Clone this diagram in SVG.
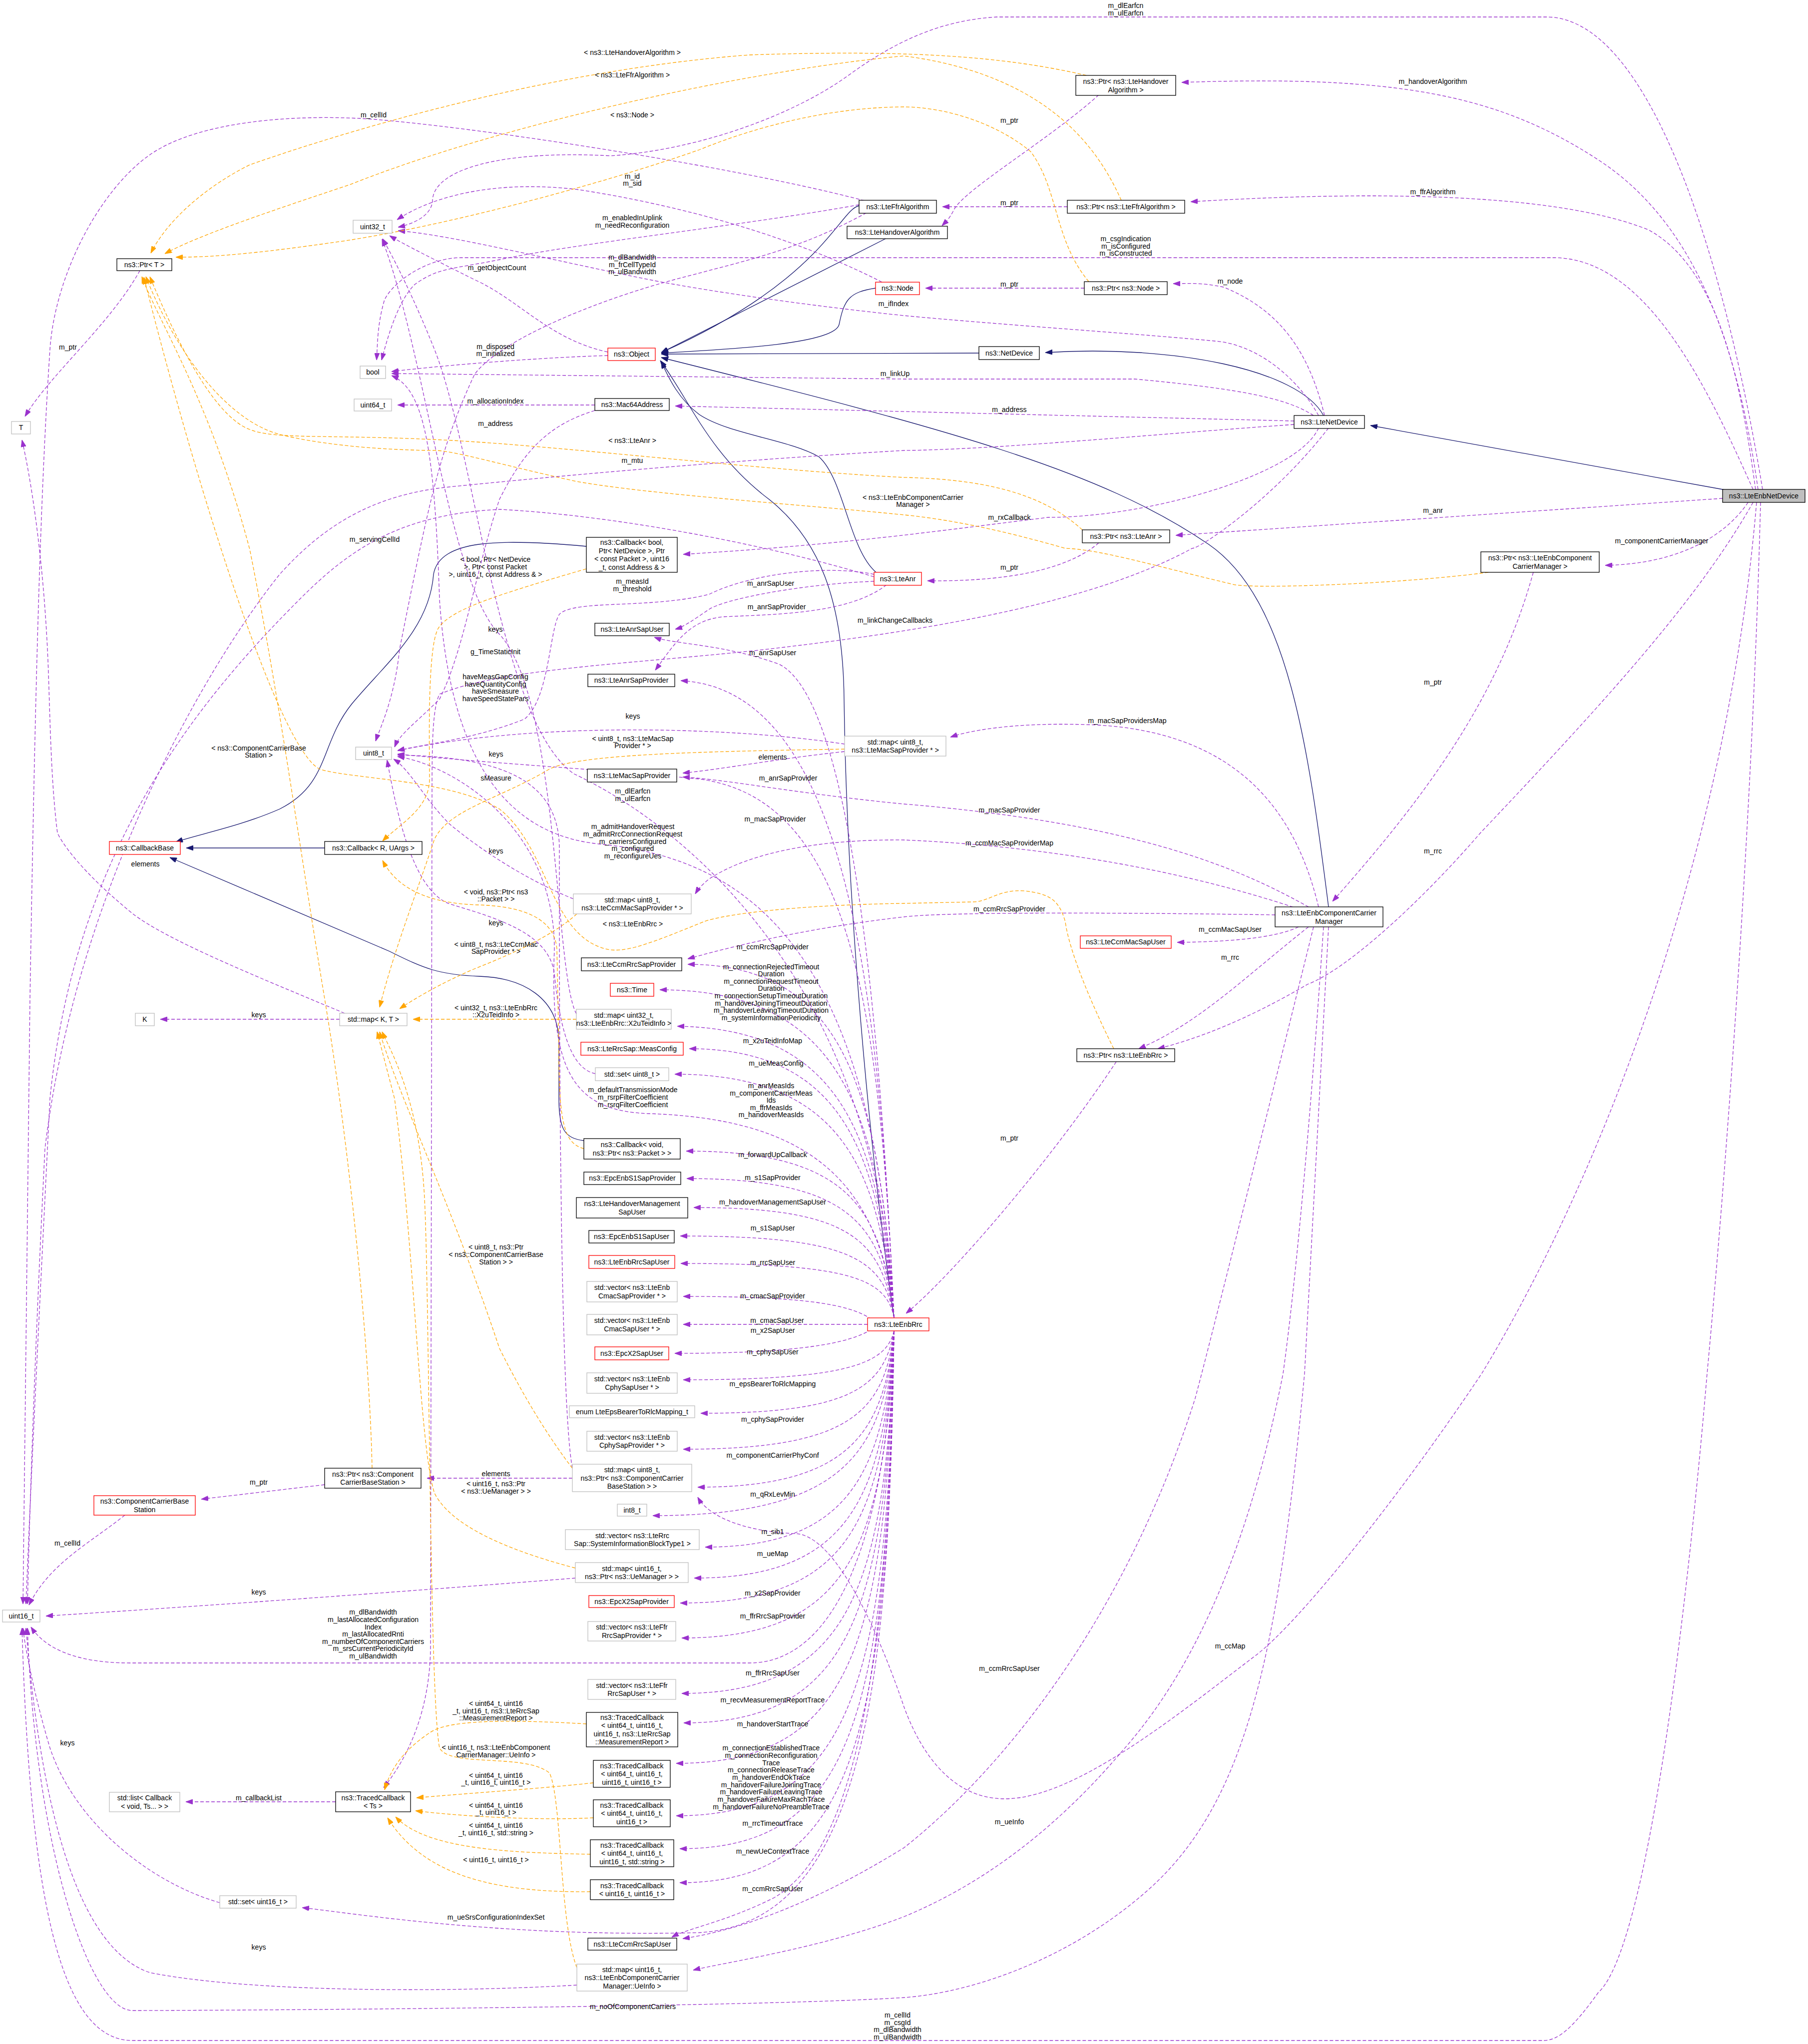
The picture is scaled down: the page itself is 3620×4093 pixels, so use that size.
<svg xmlns="http://www.w3.org/2000/svg" width="3620" height="4093" viewBox="0 0 3620 4093">
<defs>
<marker id="mp" markerUnits="userSpaceOnUse" markerWidth="14" markerHeight="10" refX="14" refY="5" orient="auto"><path d="M0,0 L14,5 L0,10 z" fill="#9A32CD" stroke="#9A32CD"/></marker>
<marker id="mo" markerUnits="userSpaceOnUse" markerWidth="14" markerHeight="10" refX="14" refY="5" orient="auto"><path d="M0,0 L14,5 L0,10 z" fill="#FFA500" stroke="#FFA500"/></marker>
<marker id="mn" markerUnits="userSpaceOnUse" markerWidth="14" markerHeight="10" refX="14" refY="5" orient="auto"><path d="M0,0 L14,5 L0,10 z" fill="#191970" stroke="#191970"/></marker>
</defs>
<style>
text{font-family:"Liberation Sans",Arial,sans-serif;font-size:14px;fill:#000;text-anchor:middle}
.n rect{fill:#fff;stroke:#000;stroke-width:1.3}
.r rect{fill:#fff;stroke:#FF0000;stroke-width:1.3}
.g rect{fill:#fff;stroke:#BFBFBF;stroke-width:1.3}
.cur rect{fill:#BFBFBF;stroke:#000;stroke-width:1.3}
.p{fill:none;stroke:#9A32CD;stroke-width:1.3;stroke-dasharray:7,4;marker-end:url(#mp)}
.o{fill:none;stroke:#FFA500;stroke-width:1.3;stroke-dasharray:7,4;marker-end:url(#mo)}
.i{fill:none;stroke:#191970;stroke-width:1.3;marker-end:url(#mn)}
</style>
<rect width="3620" height="4093" fill="#fff"/>
<g id="connectors">
<path class="i" d="M3460,982 L2744,852"/>
<path class="i" d="M2650,832 C2600,740 2350,690 2093,706"/>
<path class="i" d="M1960,707 L1324,709"/>
<path class="i" d="M1720,412 C1680,420 1650,560 1324,706"/>
<path class="i" d="M1775,477 L1324,706"/>
<path class="i" d="M1753,577 C1700,585 1690,600 1680,650 C1670,690 1450,700 1324,707"/>
<path class="i" d="M2660,1816 C2620,1500 2580,1200 2420,1090 C2200,940 1900,860 1324,716"/>
<path class="i" d="M1790,2639 C1740,2300 1695,1800 1690,1400 C1688,1200 1640,1080 1540,1000 C1420,910 1380,800 1322,722"/>
<path class="i" d="M1754,1146 C1700,1100 1690,960 1640,915 C1580,880 1460,870 1400,830 C1360,800 1340,760 1324,724"/>
<path class="i" d="M650,1698 L373,1698"/>
<path class="i" d="M1174,1094 C1000,1078 880,1080 868,1150 C860,1260 770,1330 704,1410 C640,1490 660,1570 560,1620 C480,1655 400,1670 352,1686"/>
<path class="i" d="M1169,2284 C1130,2280 1119,2260 1119,2200 L1119,2080 C1115,2000 1050,1958 960,1955 C880,1952 850,1940 780,1905 L340,1717"/>

<path class="p" d="M3529,980 C3450,500 3300,40 3100,34 L1995,34 C1900,40 1810,70 1700,150 C1590,230 1400,300 1223,312 C1000,300 870,340 866,400 C866,430 830,448 797,455"/>
<path class="p" d="M3520,980 C3480,700 3400,450 3200,320 C3000,190 2800,150 2366,165"/>
<path class="p" d="M3515,980 C3490,800 3450,540 3300,460 C3100,380 2700,385 2384,404"/>
<path class="p" d="M3510,980 C3420,780 3300,520 3114,516 L923,516 C860,516 790,560 770,600 C755,650 756,690 754,721"/>
<path class="p" d="M3449,998 L2354,1072"/>
<path class="p" d="M3500,1006 C3450,1080 3350,1130 3214,1132"/>
<path class="p" d="M3510,1006 C3400,1200 3218,1400 2964,1668 C2850,1800 2700,1940 2618,1971 C2500,2040 2400,2080 2318,2100"/>
<path class="p" d="M3517,1006 C3450,1800 3150,2450 2967,2750 C2800,3000 2600,3250 2514,3315 C2350,3440 2150,3602 2012,3602 C1900,3602 1840,3500 1810,3418 C1770,3300 1680,3075 1593,3071 C1500,3068 1420,3040 1397,2998"/>
<path class="p" d="M3525,1006 C3510,1600 3460,2300 3418,2750 C3380,3200 3300,3900 3200,3990 C3150,4060 3120,4086 3091,4086 L265,4086 C120,4086 60,3800 44,3260"/>
<path class="p" d="M2652,832 C2620,700 2560,620 2450,575 C2400,565 2380,568 2349,568"/>
<path class="p" d="M2640,832 C2600,760 2520,690 2433,683 C2300,670 2000,650 1810,632 C1600,610 1400,580 1300,560 C1100,520 900,470 797,462"/>
<path class="p" d="M2630,832 C2580,800 2500,780 2272,759 L1810,759 L784,748"/>
<path class="p" d="M2591,843 L1352,813"/>
<path class="p" d="M2591,850 C2300,870 2000,900 1810,902 C1500,920 1200,945 900,975 C750,990 650,1050 560,1150 C400,1350 150,1800 90,2300 C70,2700 60,3000 55,3212"/>
<path class="p" d="M2640,857 C2600,950 2300,1036 2099,1036 C1900,1060 1700,1090 1368,1110"/>
<path class="p" d="M2660,857 C2550,1000 2400,1100 2387,1098 C2200,1200 1900,1260 1500,1304 C1250,1330 1000,1340 880,1390 C865,1420 865,1500 865,1600 L862,3300 C860,3450 800,3540 768,3580"/>
<path class="p" d="M1731,402 C1500,340 1000,260 750,239 C600,228 400,240 300,310 C200,380 110,550 100,700 C80,1000 70,1400 60,2000 L46,3212"/>
<path class="p" d="M1720,410 C1500,450 1154,487 1000,520 C900,540 877,536 830,570 C800,600 780,660 764,721"/>
<path class="p" d="M1735,426 C1600,500 1500,520 1350,560 C1200,600 1000,680 950,750 C880,900 860,1000 800,1300 C790,1400 760,1460 752,1484"/>
<path class="p" d="M1766,565 C1600,480 1385,415 1160,380 C1000,360 870,390 795,440"/>
<path class="p" d="M1217,705 C1100,680 1039,600 950,560 C870,520 810,490 780,472"/>
<path class="p" d="M1217,712 C1100,715 900,730 784,744"/>
<path class="p" d="M1191,811 L796,811"/>
<path class="p" d="M1191,822 C1100,850 1050,900 1000,1000 C950,1150 930,1300 880,1400 C830,1450 800,1470 790,1496"/>
<path class="p" d="M1750,1164 C1600,1170 1450,1200 1420,1220 C1390,1240 1370,1255 1352,1260"/>
<path class="p" d="M1775,1171 C1700,1230 1550,1230 1450,1235 C1380,1240 1350,1290 1312,1342"/>
<path class="p" d="M1750,1150 C1650,1130 1500,1150 1420,1190 C1300,1220 1150,1200 1120,1230 C1100,1260 1100,1400 1050,1440 C950,1480 850,1490 796,1503"/>
<path class="p" d="M1750,1155 C1500,1080 1200,1030 1000,1020 C800,1030 700,1100 600,1200 C400,1400 150,1700 100,2200 C80,2600 60,3000 52,3212"/>
<path class="p" d="M2200,190 C2100,280 1930,380 1910,420 C1900,440 1892,446 1886,452"/>
<path class="p" d="M2137,414 L1887,414"/>
<path class="p" d="M2171,577 L1853,577"/>
<path class="p" d="M2200,1087 C2150,1130 2050,1165 1857,1163"/>
<path class="p" d="M3070,1146 C3000,1400 2850,1600 2668,1805"/>
<path class="p" d="M2235,2126 C2100,2330 1900,2560 1814,2630"/>
<path class="p" d="M280,542 C220,650 100,750 50,834"/>
<path class="p" d="M650,2973 L403,3002"/>
<path class="p" d="M250,3034 C180,3090 100,3130 58,3214"/>
<path class="p" d="M2640,1816 C2600,1650 2500,1470 2200,1452 C2050,1445 1950,1460 1903,1476"/>
<path class="p" d="M2620,1816 C2500,1750 2300,1650 1810,1610 C1600,1590 1450,1560 1367,1556"/>
<path class="p" d="M2600,1820 C2300,1720 2000,1690 1810,1682 C1600,1680 1480,1720 1420,1760 C1405,1772 1398,1780 1392,1790"/>
<path class="p" d="M2553,1832 C2300,1828 1900,1825 1810,1836 C1600,1860 1450,1900 1377,1920"/>
<path class="p" d="M2600,1856 C2550,1880 2450,1886 2357,1887"/>
<path class="p" d="M2620,1856 C2500,1950 2400,2050 2280,2100"/>
<path class="p" d="M2630,1856 C2520,2300 2420,2700 2393,2800 C2250,3250 2000,3550 1810,3700 C1600,3830 1450,3870 1367,3882"/>
<path class="p" d="M2650,1856 C2620,2300 2590,2600 2569,2750 C2520,3000 2430,3300 2249,3504 C2100,3680 1950,3780 1810,3838 C1650,3900 1450,3930 1388,3945"/>
<path class="p" d="M2660,1856 L2612,2750 C2560,3300 2500,3600 2306,3778 C2150,3920 1950,3990 1810,4000 C1500,4020 400,4026 265,4026 C180,4026 70,3700 55,3260"/>

<path class="p" d="M1790,2639 C1760,2000 1700,1400 1560,1330 C1450,1290 1350,1290 1310,1276"/>
<path class="p" d="M1790,2639 C1760,2000 1700,1380 1363,1363"/>
<path class="p" d="M1790,2639 C1760,2000 1700,1600 1400,1560 C1200,1540 1000,1530 796,1510"/>
<path class="p" d="M1790,2639 C1750,1900 1300,1620 1150,1550 C1000,1450 950,900 870,700 C830,600 790,520 766,478"/>
<path class="p" d="M1790,2639 C1750,1900 1500,1720 1200,1690 C1000,1670 900,1500 880,1200 C870,900 850,780 784,752"/>
<path class="p" d="M1790,2639 C1760,2200 1700,1931 1377,1931"/>
<path class="p" d="M1790,2639 C1760,2250 1700,1982 1321,1982"/>
<path class="p" d="M1790,2639 C1760,2300 1700,2060 1356,2055"/>
<path class="p" d="M1790,2639 C1760,2330 1700,2100 1380,2100"/>
<path class="p" d="M1790,2639 C1760,2360 1700,2151 1351,2151"/>
<path class="p" d="M1790,2639 C1760,2350 1600,2240 1300,2230 C1150,2225 1100,2150 1110,1900 C1110,1650 900,1530 796,1515"/>
<path class="p" d="M1790,2639 C1765,2420 1700,2305 1374,2305"/>
<path class="p" d="M1790,2639 C1765,2450 1700,2360 1375,2360"/>
<path class="p" d="M1790,2639 C1765,2480 1700,2418 1389,2418"/>
<path class="p" d="M1790,2639 C1770,2520 1700,2475 1362,2475"/>
<path class="p" d="M1790,2639 C1775,2560 1700,2530 1363,2530"/>
<path class="p" d="M1745,2642 C1700,2610 1600,2596 1368,2596"/>
<path class="p" d="M1737,2652 L1368,2652"/>
<path class="p" d="M1745,2662 C1700,2690 1600,2710 1351,2710"/>
<path class="p" d="M1790,2665 C1775,2730 1700,2763 1368,2763"/>
<path class="p" d="M1790,2665 C1770,2780 1700,2830 1403,2830"/>
<path class="p" d="M1790,2665 C1770,2830 1700,2902 1368,2902"/>
<path class="p" d="M1790,2665 C1770,2870 1700,2978 1397,2978"/>
<path class="p" d="M1790,2665 C1770,2900 1700,3035 1307,3035"/>
<path class="p" d="M1790,2665 C1770,2950 1700,3098 1412,3098"/>
<path class="p" d="M1790,2665 C1770,3000 1700,3160 1390,3160"/>
<path class="p" d="M1790,2665 C1770,3050 1700,3210 1362,3210"/>
<path class="p" d="M1790,2665 C1770,3100 1700,3280 1365,3280"/>
<path class="p" d="M1790,2665 C1780,3000 1700,3330 1500,3330 L260,3330 C150,3330 90,3300 62,3258"/>
<path class="p" d="M1790,2665 C1775,3180 1700,3391 1365,3391"/>
<path class="p" d="M1790,2665 C1775,3230 1700,3450 1369,3450"/>
<path class="p" d="M1790,2665 C1775,3300 1700,3531 1354,3531"/>
<path class="p" d="M1790,2665 C1778,3380 1700,3636 1354,3636"/>
<path class="p" d="M1790,2665 C1778,3450 1700,3702 1361,3702"/>
<path class="p" d="M1790,2665 C1780,3500 1700,3770 1361,3770"/>
<path class="p" d="M1790,2665 C1780,3300 1750,3850 1400,3870 C1000,3880 700,3830 605,3820"/>
<path class="p" d="M1790,2665 C1780,3300 1720,3700 1550,3800 C1450,3850 1380,3860 1345,3879"/>

<path class="p" d="M1691,1490 C1500,1460 1100,1440 796,1503"/>
<path class="p" d="M1154,2030 C1110,1950 1120,1400 1000,1270 C900,1170 850,700 765,479"/>
<path class="p" d="M1146,2940 C1120,2800 1120,2000 1120,1700 C1120,1560 1000,1515 796,1512"/>
<path class="p" d="M1148,1800 C1050,1760 960,1700 900,1650 C850,1600 820,1540 788,1520"/>
<path class="p" d="M1192,2150 C1140,2140 1120,2050 1110,1950 C1100,1870 1000,1840 900,1810 C820,1780 790,1600 775,1522"/>
<path class="p" d="M680,2041 L321,2041"/>
<path class="p" d="M690,2029 C500,1950 330,1880 265,1829 C180,1760 130,1700 115,1668 C100,1550 100,1400 95,1300 C85,1100 60,950 44,881"/>
<path class="p" d="M672,3608 L372,3608"/>
<path class="p" d="M440,3810 C300,3770 150,3650 100,3500 C70,3400 50,3300 46,3260"/>
<path class="p" d="M1155,3975 C900,3990 500,3990 300,3950 C150,3900 80,3600 52,3260"/>
<path class="p" d="M1152,3160 C900,3180 500,3210 92,3236"/>
<path class="p" d="M1691,1505 C1550,1520 1450,1540 1367,1548"/>
<path class="p" d="M1146,2960 L855,2960"/>

<path class="o" d="M2175,151 C2000,110 1800,100 1500,110 C1100,140 700,260 500,330 C400,380 330,450 302,507"/>
<path class="o" d="M2245,401 C2200,300 2100,150 1810,112 C1500,140 1000,250 700,370 C550,420 400,470 330,508"/>
<path class="o" d="M2180,564 C2110,480 2120,380 2064,304 C2000,250 1900,215 1810,214 C1650,215 1500,259 1400,300 C1200,370 900,450 692,482 C500,510 420,515 352,515"/>
<path class="o" d="M2167,1061 C2100,1000 2000,960 1810,956 C1500,940 1100,890 866,880 C650,870 550,880 500,860 C420,830 340,650 300,554"/>
<path class="o" d="M2980,1146 C2800,1170 2500,1180 2468,1170 C2300,1130 2200,1100 2133,1098 C2000,1060 1900,1040 1810,1031 C1600,1010 1300,990 1154,964 C1000,930 900,900 866,902 C700,900 600,880 560,870 C450,840 350,700 292,554"/>
<path class="o" d="M2230,2100 C2180,2000 2140,1900 2133,1846 C2120,1800 2100,1790 2052,1784 C2000,1780 1980,1806 1948,1806 L1810,1809 C1600,1812 1450,1830 1408,1846 C1300,1890 1250,1910 1212,1900 C1100,1870 1100,1700 1000,1620 C900,1560 700,1560 640,1540 C560,1500 400,1000 288,555"/>
<path class="o" d="M745,2940 C740,2700 700,2300 650,2000 C600,1700 560,1400 500,1100 C420,800 320,650 284,554"/>
<path class="o" d="M1174,1139 C1000,1190 900,1220 877,1259 C855,1300 860,1500 860,1560 C860,1620 800,1650 766,1684"/>
<path class="o" d="M1169,2300 C1130,2290 1119,2250 1119,2100 L1115,1900 C1110,1840 1050,1815 958,1812 C880,1810 800,1790 766,1723"/>
<path class="o" d="M1691,1500 C1400,1505 1160,1510 1100,1540 C1000,1600 900,1620 870,1680 C830,1800 790,1900 760,2017"/>
<path class="o" d="M1155,1830 C1100,1880 1000,1920 950,1940 C880,1970 830,2000 800,2020"/>
<path class="o" d="M1154,2041 L827,2041"/>
<path class="o" d="M1146,2940 C1100,2880 1050,2800 1000,2700 C900,2400 800,2200 760,2066"/>
<path class="o" d="M1152,3140 C1000,3100 900,3050 870,2990 C840,2900 830,2500 790,2200 L755,2066"/>
<path class="o" d="M1155,3940 C1120,3850 1125,3600 1100,3550 C1050,3510 900,3540 880,3500 C860,3400 860,2600 850,2400 C840,2200 780,2100 765,2066"/>
<path class="o" d="M1174,3452 C1050,3445 900,3440 860,3470 C800,3510 780,3550 770,3584"/>
<path class="o" d="M1188,3570 C1100,3580 950,3590 834,3600"/>
<path class="o" d="M1188,3640 C1100,3645 950,3640 832,3626"/>
<path class="o" d="M1182,3713 C1000,3710 850,3700 792,3638"/>
<path class="o" d="M1182,3788 C1000,3790 850,3760 776,3640"/>

<text x="2254" y="16">m_dlEarfcn</text><text x="2254" y="31">m_ulEarfcn</text>
<text x="2869" y="168">m_handoverAlgorithm</text>
<text x="2869" y="389">m_ffrAlgorithm</text>
<text x="2254" y="483">m_csgIndication</text><text x="2254" y="498">m_isConfigured</text><text x="2254" y="512">m_isConstructed</text>
<text x="2463" y="568">m_node</text>
<text x="1789" y="613">m_ifIndex</text>
<text x="1792" y="753">m_linkUp</text>
<text x="2021" y="825">m_address</text>
<text x="1266" y="927">m_mtu</text>
<text x="2021" y="1041">m_rxCallback</text>
<text x="1792" y="1247">m_linkChangeCallbacks</text>
<text x="2869" y="1027">m_anr</text>
<text x="3327" y="1088">m_componentCarrierManager</text>
<text x="2869" y="1709">m_rrc</text>
<text x="2463" y="3301">m_ccMap</text>
<text x="1797" y="4040">m_cellId</text><text x="1797" y="4055">m_csgId</text><text x="1797" y="4069">m_dlBandwidth</text><text x="1797" y="4084">m_ulBandwidth</text>
<text x="2021" y="246">m_ptr</text>
<text x="2021" y="411">m_ptr</text>
<text x="2021" y="574">m_ptr</text>
<text x="2021" y="1141">m_ptr</text>
<text x="2869" y="1371">m_ptr</text>
<text x="2021" y="2284">m_ptr</text>
<text x="136" y="700">m_ptr</text>
<text x="518" y="2973">m_ptr</text>
<text x="135" y="3095">m_cellId</text>
<text x="2257" y="1448">m_macSapProvidersMap</text>
<text x="2021" y="1627">m_macSapProvider</text>
<text x="2021" y="1693">m_ccmMacSapProviderMap</text>
<text x="2021" y="1825">m_ccmRrcSapProvider</text>
<text x="2463" y="1866">m_ccmMacSapUser</text>
<text x="2463" y="1922">m_rrc</text>
<text x="2021" y="3346">m_ccmRrcSapUser</text>
<text x="2021" y="3653">m_ueInfo</text>
<text x="1267" y="4023">m_noOfComponentCarriers</text>
<text x="1266" y="110">&lt; ns3::LteHandoverAlgorithm &gt;</text>
<text x="1266" y="155">&lt; ns3::LteFfrAlgorithm &gt;</text>
<text x="748" y="235">m_cellId</text>
<text x="1266" y="235">&lt; ns3::Node &gt;</text>
<text x="1266" y="358">m_id</text><text x="1266" y="372">m_sid</text>
<text x="1266" y="441">m_enabledInUplink</text><text x="1266" y="456">m_needReconfiguration</text>
<text x="1266" y="520">m_dlBandwidth</text><text x="1266" y="535">m_frCellTypeId</text><text x="1266" y="549">m_ulBandwidth</text>
<text x="995" y="541">m_getObjectCount</text>
<text x="992" y="699">m_disposed</text><text x="992" y="713">m_initialized</text>
<text x="992" y="808">m_allocationIndex</text>
<text x="992" y="853">m_address</text>
<text x="1266" y="887">&lt; ns3::LteAnr &gt;</text>
<text x="1828" y="1001">&lt; ns3::LteEnbComponentCarrier</text><text x="1828" y="1015">Manager &gt;</text>
<text x="750" y="1085">m_servingCellId</text>
<text x="992" y="1125">&lt; bool, Ptr&lt; NetDevice</text><text x="992" y="1140">&gt;, Ptr&lt; const Packet</text><text x="992" y="1155">&gt;, uint16_t, const Address &amp; &gt;</text>
<text x="1266" y="1169">m_measId</text><text x="1266" y="1184">m_threshold</text>
<text x="1543" y="1173">m_anrSapUser</text>
<text x="1555" y="1220">m_anrSapProvider</text>
<text x="992" y="1265">keys</text>
<text x="1547" y="1312">m_anrSapUser</text>
<text x="992" y="1310">g_TimeStaticInit</text>
<text x="992" y="1360">haveMeasGapConfig</text><text x="992" y="1375">haveQuantityConfig</text><text x="992" y="1389">haveSmeasure</text><text x="992" y="1404">haveSpeedStatePars</text>
<text x="1267" y="1439">keys</text>
<text x="1267" y="1484">&lt; uint8_t, ns3::LteMacSap</text><text x="1267" y="1498">Provider * &gt;</text>
<text x="1547" y="1521">elements</text>
<text x="993" y="1515">keys</text>
<text x="518" y="1503">&lt; ns3::ComponentCarrierBase</text><text x="518" y="1517">Station &gt;</text>
<text x="1578" y="1563">m_anrSapProvider</text>
<text x="993" y="1563">sMeasure</text>
<text x="1267" y="1589">m_dlEarfcn</text><text x="1267" y="1604">m_ulEarfcn</text>
<text x="1552" y="1645">m_macSapProvider</text>
<text x="1267" y="1660">m_admitHandoverRequest</text><text x="1267" y="1675">m_admitRrcConnectionRequest</text><text x="1267" y="1690">m_carriersConfigured</text><text x="1267" y="1704">m_configured</text><text x="1267" y="1719">m_reconfigureUes</text>
<text x="993" y="1709">keys</text>
<text x="291" y="1735">elements</text>
<text x="993" y="1791">&lt; void, ns3::Ptr&lt; ns3</text><text x="993" y="1805">::Packet &gt; &gt;</text>
<text x="1267" y="1855">&lt; ns3::LteEnbRrc &gt;</text>
<text x="993" y="1853">keys</text>
<text x="993" y="1896">&lt; uint8_t, ns3::LteCcmMac</text><text x="993" y="1910">SapProvider * &gt;</text>
<text x="1547" y="1901">m_ccmRrcSapProvider</text>
<text x="1544" y="1941">m_connectionRejectedTimeout</text><text x="1544" y="1955">Duration</text><text x="1544" y="1970">m_connectionRequestTimeout</text><text x="1544" y="1984">Duration</text><text x="1544" y="1999">m_connectionSetupTimeoutDuration</text><text x="1544" y="2014">m_handoverJoiningTimeoutDuration</text><text x="1544" y="2028">m_handoverLeavingTimeoutDuration</text><text x="1544" y="2043">m_systemInformationPeriodicity</text>
<text x="993" y="2023">&lt; uint32_t, ns3::LteEnbRrc</text><text x="993" y="2037">::X2uTeidInfo &gt;</text>
<text x="518" y="2037">keys</text>
<text x="1547" y="2089">m_x2uTeidInfoMap</text>
<text x="1554" y="2134">m_ueMeasConfig</text>
<text x="1544" y="2179">m_anrMeasIds</text><text x="1544" y="2194">m_componentCarrierMeas</text><text x="1544" y="2208">Ids</text><text x="1544" y="2223">m_ffrMeasIds</text><text x="1544" y="2237">m_handoverMeasIds</text>
<text x="1267" y="2187">m_defaultTransmissionMode</text><text x="1267" y="2202">m_rsrpFilterCoefficient</text><text x="1267" y="2217">m_rsrqFilterCoefficient</text>
<text x="1547" y="2317">m_forwardUpCallback</text>
<text x="1547" y="2363">m_s1SapProvider</text>
<text x="1547" y="2412">m_handoverManagementSapUser</text>
<text x="1547" y="2464">m_s1SapUser</text>
<text x="1547" y="2533">m_rrcSapUser</text>
<text x="1547" y="2600">m_cmacSapProvider</text>
<text x="1556" y="2649">m_cmacSapUser</text>
<text x="1547" y="2669">m_x2SapUser</text>
<text x="1547" y="2712">m_cphySapUser</text>
<text x="1547" y="2776">m_epsBearerToRlcMapping</text>
<text x="993" y="2502">&lt; uint8_t, ns3::Ptr</text><text x="993" y="2517">&lt; ns3::ComponentCarrierBase</text><text x="993" y="2532">Station &gt; &gt;</text>
<text x="1547" y="2847">m_cphySapProvider</text>
<text x="1547" y="2919">m_componentCarrierPhyConf</text>
<text x="993" y="2956">elements</text>
<text x="993" y="2976">&lt; uint16_t, ns3::Ptr</text><text x="993" y="2991">&lt; ns3::UeManager &gt; &gt;</text>
<text x="1547" y="2997">m_qRxLevMin</text>
<text x="1547" y="3072">m_sib1</text>
<text x="1547" y="3116">m_ueMap</text>
<text x="518" y="3193">keys</text>
<text x="1547" y="3195">m_x2SapProvider</text>
<text x="1547" y="3241">m_ffrRrcSapProvider</text>
<text x="747" y="3233">m_dlBandwidth</text><text x="747" y="3248">m_lastAllocatedConfiguration</text><text x="747" y="3263">Index</text><text x="747" y="3277">m_lastAllocatedRnti</text><text x="747" y="3292">m_numberOfComponentCarriers</text><text x="747" y="3306">m_srsCurrentPeriodicityId</text><text x="747" y="3321">m_ulBandwidth</text>
<text x="1547" y="3355">m_ffrRrcSapUser</text>
<text x="1547" y="3409">m_recvMeasurementReportTrace</text>
<text x="993" y="3416">&lt; uint64_t, uint16</text><text x="993" y="3431">_t, uint16_t, ns3::LteRrcSap</text><text x="993" y="3445">::MeasurementReport &gt;</text>
<text x="1547" y="3457">m_handoverStartTrace</text>
<text x="993" y="3504">&lt; uint16_t, ns3::LteEnbComponent</text><text x="993" y="3519">CarrierManager::UeInfo &gt;</text>
<text x="1544" y="3505">m_connectionEstablishedTrace</text><text x="1544" y="3520">m_connectionReconfiguration</text><text x="1544" y="3535">Trace</text><text x="1544" y="3549">m_connectionReleaseTrace</text><text x="1544" y="3564">m_handoverEndOkTrace</text><text x="1544" y="3579">m_handoverFailureJoiningTrace</text><text x="1544" y="3593">m_handoverFailureLeavingTrace</text><text x="1544" y="3608">m_handoverFailureMaxRachTrace</text><text x="1544" y="3623">m_handoverFailureNoPreambleTrace</text>
<text x="135" y="3495">keys</text>
<text x="993" y="3560">&lt; uint64_t, uint16</text><text x="993" y="3574">_t, uint16_t, uint16_t &gt;</text>
<text x="518" y="3605">m_callbackList</text>
<text x="993" y="3620">&lt; uint64_t, uint16</text><text x="993" y="3634">_t, uint16_t &gt;</text>
<text x="1547" y="3656">m_rrcTimeoutTrace</text>
<text x="993" y="3660">&lt; uint64_t, uint16</text><text x="993" y="3675">_t, uint16_t, std::string &gt;</text>
<text x="1547" y="3712">m_newUeContextTrace</text>
<text x="993" y="3729">&lt; uint16_t, uint16_t &gt;</text>
<text x="1547" y="3787">m_ccmRrcSapUser</text>
<text x="993" y="3844">m_ueSrsConfigurationIndexSet</text>
<text x="518" y="3904">keys</text>
</g>

<g id="n1" class="cur"><rect x="3449" y="980" width="165" height="26"/><text x="3531.5" y="998">ns3::LteEnbNetDevice</text></g>
<g id="n2" class="n"><rect x="2591" y="832" width="141" height="26"/><text x="2661.5" y="850">ns3::LteNetDevice</text></g>
<g id="n3" class="n"><rect x="1960" y="694" width="121" height="26"/><text x="2020.5" y="712">ns3::NetDevice</text></g>
<g id="n4" class="r"><rect x="1217" y="697" width="95" height="25"/><text x="1264.5" y="714">ns3::Object</text></g>
<g id="n5" class="n"><rect x="1720" y="401" width="155" height="26"/><text x="1797.5" y="419">ns3::LteFfrAlgorithm</text></g>
<g id="n6" class="n"><rect x="1696" y="453" width="201" height="25"/><text x="1796.5" y="470">ns3::LteHandoverAlgorithm</text></g>
<g id="n7" class="r"><rect x="1753" y="565" width="88" height="25"/><text x="1797" y="582">ns3::Node</text></g>
<g id="n8" class="n"><rect x="2154" y="151" width="200" height="40"/><text x="2254" y="168">ns3::Ptr&lt; ns3::LteHandover</text><text x="2254" y="185">Algorithm &gt;</text></g>
<g id="n9" class="n"><rect x="2137" y="401" width="235" height="26"/><text x="2254.5" y="419">ns3::Ptr&lt; ns3::LteFfrAlgorithm &gt;</text></g>
<g id="n10" class="n"><rect x="2171" y="564" width="166" height="26"/><text x="2254" y="582">ns3::Ptr&lt; ns3::Node &gt;</text></g>
<g id="n11" class="n"><rect x="2167" y="1061" width="175" height="26"/><text x="2254.5" y="1079">ns3::Ptr&lt; ns3::LteAnr &gt;</text></g>
<g id="n12" class="n"><rect x="2965" y="1105" width="237" height="41"/><text x="3083.5" y="1122">ns3::Ptr&lt; ns3::LteEnbComponent</text><text x="3083.5" y="1139">CarrierManager &gt;</text></g>
<g id="n13" class="n"><rect x="2553" y="1816" width="216" height="40"/><text x="2661" y="1833">ns3::LteEnbComponentCarrier</text><text x="2661" y="1850">Manager</text></g>
<g id="n14" class="r"><rect x="2163" y="1874" width="182" height="25"/><text x="2254" y="1891">ns3::LteCcmMacSapUser</text></g>
<g id="n15" class="n"><rect x="2156" y="2100" width="196" height="26"/><text x="2254" y="2118">ns3::Ptr&lt; ns3::LteEnbRrc &gt;</text></g>
<g id="n16" class="r"><rect x="1750" y="1146" width="95" height="26"/><text x="1797.5" y="1164">ns3::LteAnr</text></g>
<g id="n17" class="r"><rect x="1737" y="2639" width="123" height="26"/><text x="1798.5" y="2657">ns3::LteEnbRrc</text></g>
<g id="n18" class="n"><rect x="234" y="518" width="110" height="24"/><text x="289" y="535">ns3::Ptr&lt; T &gt;</text></g>
<g id="n19" class="g"><rect x="23" y="844" width="38" height="25"/><text x="42" y="861">T</text></g>
<g id="n20" class="g"><rect x="707" y="441" width="78" height="26"/><text x="746" y="459">uint32_t</text></g>
<g id="n21" class="g"><rect x="721" y="733" width="51" height="25"/><text x="746.5" y="750">bool</text></g>
<g id="n22" class="g"><rect x="709" y="799" width="75" height="24"/><text x="746.5" y="816">uint64_t</text></g>
<g id="n23" class="n"><rect x="1191" y="798" width="149" height="24"/><text x="1265.5" y="815">ns3::Mac64Address</text></g>
<g id="n24" class="n"><rect x="1174" y="1076" width="182" height="70"/><text x="1265" y="1091">ns3::Callback&lt; bool,</text><text x="1265" y="1108">Ptr&lt; NetDevice &gt;, Ptr</text><text x="1265" y="1124">&lt; const Packet &gt;, uint16</text><text x="1265" y="1141">_t, const Address &amp; &gt;</text></g>
<g id="n25" class="n"><rect x="1191" y="1248" width="149" height="25"/><text x="1265.5" y="1265">ns3::LteAnrSapUser</text></g>
<g id="n26" class="n"><rect x="1177" y="1350" width="174" height="25"/><text x="1264" y="1367">ns3::LteAnrSapProvider</text></g>
<g id="n27" class="g"><rect x="712" y="1496" width="72" height="25"/><text x="748" y="1513">uint8_t</text></g>
<g id="n28" class="g"><rect x="1691" y="1474" width="203" height="40"/><text x="1792.5" y="1491">std::map&lt; uint8_t,</text><text x="1792.5" y="1507">ns3::LteMacSapProvider * &gt;</text></g>
<g id="n29" class="n"><rect x="1176" y="1540" width="179" height="26"/><text x="1265.5" y="1558">ns3::LteMacSapProvider</text></g>
<g id="n30" class="r"><rect x="219" y="1685" width="142" height="26"/><text x="290" y="1703">ns3::CallbackBase</text></g>
<g id="n31" class="n"><rect x="650" y="1685" width="195" height="26"/><text x="747.5" y="1703">ns3::Callback&lt; R, UArgs &gt;</text></g>
<g id="n32" class="g"><rect x="1148" y="1790" width="236" height="40"/><text x="1266" y="1807">std::map&lt; uint8_t,</text><text x="1266" y="1823">ns3::LteCcmMacSapProvider * &gt;</text></g>
<g id="n33" class="n"><rect x="1164" y="1918" width="201" height="26"/><text x="1264.5" y="1936">ns3::LteCcmRrcSapProvider</text></g>
<g id="n34" class="r"><rect x="1222" y="1969" width="87" height="26"/><text x="1265.5" y="1987">ns3::Time</text></g>
<g id="n35" class="g"><rect x="271" y="2029" width="38" height="25"/><text x="290" y="2046">K</text></g>
<g id="n36" class="g"><rect x="680" y="2029" width="135" height="25"/><text x="747.5" y="2046">std::map&lt; K, T &gt;</text></g>
<g id="n37" class="g"><rect x="1154" y="2021" width="190" height="40"/><text x="1249" y="2038">std::map&lt; uint32_t,</text><text x="1249" y="2054">ns3::LteEnbRrc::X2uTeidInfo &gt;</text></g>
<g id="n38" class="r"><rect x="1163" y="2087" width="205" height="26"/><text x="1265.5" y="2105">ns3::LteRrcSap::MeasConfig</text></g>
<g id="n39" class="g"><rect x="1192" y="2138" width="147" height="26"/><text x="1265.5" y="2156">std::set&lt; uint8_t &gt;</text></g>
<g id="n40" class="n"><rect x="1169" y="2280" width="193" height="41"/><text x="1265.5" y="2297">ns3::Callback&lt; void,</text><text x="1265.5" y="2314">ns3::Ptr&lt; ns3::Packet &gt; &gt;</text></g>
<g id="n41" class="n"><rect x="1169" y="2347" width="194" height="25"/><text x="1266" y="2364">ns3::EpcEnbS1SapProvider</text></g>
<g id="n42" class="n"><rect x="1154" y="2398" width="223" height="41"/><text x="1265.5" y="2415">ns3::LteHandoverManagement</text><text x="1265.5" y="2432">SapUser</text></g>
<g id="n43" class="n"><rect x="1179" y="2464" width="171" height="25"/><text x="1264.5" y="2481">ns3::EpcEnbS1SapUser</text></g>
<g id="n44" class="r"><rect x="1179" y="2514" width="172" height="26"/><text x="1265" y="2532">ns3::LteEnbRrcSapUser</text></g>
<g id="n45" class="g"><rect x="1175" y="2566" width="181" height="41"/><text x="1265.5" y="2583">std::vector&lt; ns3::LteEnb</text><text x="1265.5" y="2600">CmacSapProvider * &gt;</text></g>
<g id="n46" class="g"><rect x="1175" y="2632" width="181" height="41"/><text x="1265.5" y="2649">std::vector&lt; ns3::LteEnb</text><text x="1265.5" y="2666">CmacSapUser * &gt;</text></g>
<g id="n47" class="r"><rect x="1191" y="2697" width="148" height="26"/><text x="1265" y="2715">ns3::EpcX2SapUser</text></g>
<g id="n48" class="g"><rect x="1175" y="2749" width="181" height="41"/><text x="1265.5" y="2766">std::vector&lt; ns3::LteEnb</text><text x="1265.5" y="2783">CphySapUser * &gt;</text></g>
<g id="n49" class="g"><rect x="1140" y="2815" width="251" height="24"/><text x="1265.5" y="2832">enum LteEpsBearerToRlcMapping_t</text></g>
<g id="n50" class="g"><rect x="1175" y="2866" width="181" height="40"/><text x="1265.5" y="2883">std::vector&lt; ns3::LteEnb</text><text x="1265.5" y="2899">CphySapProvider * &gt;</text></g>
<g id="n51" class="n"><rect x="650" y="2940" width="193" height="40"/><text x="746.5" y="2957">ns3::Ptr&lt; ns3::Component</text><text x="746.5" y="2973">CarrierBaseStation &gt;</text></g>
<g id="n52" class="r"><rect x="188" y="2995" width="203" height="39"/><text x="289.5" y="3011">ns3::ComponentCarrierBase</text><text x="289.5" y="3028">Station</text></g>
<g id="n53" class="g"><rect x="1146" y="2932" width="239" height="55"/><text x="1265.5" y="2948">std::map&lt; uint8_t,</text><text x="1265.5" y="2965">ns3::Ptr&lt; ns3::ComponentCarrier</text><text x="1265.5" y="2981">BaseStation &gt; &gt;</text></g>
<g id="n54" class="g"><rect x="1236" y="3012" width="59" height="24"/><text x="1265.5" y="3029">int8_t</text></g>
<g id="n55" class="g"><rect x="1132" y="3063" width="268" height="40"/><text x="1266" y="3080">std::vector&lt; ns3::LteRrc</text><text x="1266" y="3096">Sap::SystemInformationBlockType1 &gt;</text></g>
<g id="n56" class="g"><rect x="1152" y="3129" width="226" height="40"/><text x="1265" y="3146">std::map&lt; uint16_t,</text><text x="1265" y="3162">ns3::Ptr&lt; ns3::UeManager &gt; &gt;</text></g>
<g id="n57" class="r"><rect x="1179" y="3195" width="171" height="24"/><text x="1264.5" y="3212">ns3::EpcX2SapProvider</text></g>
<g id="n58" class="g"><rect x="1177" y="3247" width="176" height="39"/><text x="1265" y="3263">std::vector&lt; ns3::LteFfr</text><text x="1265" y="3280">RrcSapProvider * &gt;</text></g>
<g id="n59" class="g"><rect x="5" y="3224" width="75" height="24"/><text x="42.5" y="3241">uint16_t</text></g>
<g id="n60" class="g"><rect x="1177" y="3363" width="176" height="40"/><text x="1265" y="3380">std::vector&lt; ns3::LteFfr</text><text x="1265" y="3396">RrcSapUser * &gt;</text></g>
<g id="n61" class="n"><rect x="1174" y="3429" width="183" height="69"/><text x="1265.5" y="3444">ns3::TracedCallback</text><text x="1265.5" y="3460">&lt; uint64_t, uint16_t,</text><text x="1265.5" y="3477">uint16_t, ns3::LteRrcSap</text><text x="1265.5" y="3493">::MeasurementReport &gt;</text></g>
<g id="n62" class="n"><rect x="1188" y="3525" width="154" height="54"/><text x="1265" y="3541">ns3::TracedCallback</text><text x="1265" y="3557">&lt; uint64_t, uint16_t,</text><text x="1265" y="3574">uint16_t, uint16_t &gt;</text></g>
<g id="n63" class="n"><rect x="672" y="3588" width="150" height="40"/><text x="747" y="3605">ns3::TracedCallback</text><text x="747" y="3621">&lt; Ts &gt;</text></g>
<g id="n64" class="g"><rect x="219" y="3589" width="141" height="39"/><text x="289.5" y="3605">std::list&lt; Callback</text><text x="289.5" y="3622">&lt; void, Ts... &gt; &gt;</text></g>
<g id="n65" class="n"><rect x="1188" y="3604" width="154" height="54"/><text x="1265" y="3620">ns3::TracedCallback</text><text x="1265" y="3636">&lt; uint64_t, uint16_t,</text><text x="1265" y="3653">uint16_t &gt;</text></g>
<g id="n66" class="n"><rect x="1182" y="3684" width="167" height="54"/><text x="1265.5" y="3700">ns3::TracedCallback</text><text x="1265.5" y="3716">&lt; uint64_t, uint16_t,</text><text x="1265.5" y="3733">uint16_t, std::string &gt;</text></g>
<g id="n67" class="n"><rect x="1182" y="3764" width="167" height="40"/><text x="1265.5" y="3781">ns3::TracedCallback</text><text x="1265.5" y="3797">&lt; uint16_t, uint16_t &gt;</text></g>
<g id="n68" class="g"><rect x="440" y="3796" width="153" height="25"/><text x="516.5" y="3813">std::set&lt; uint16_t &gt;</text></g>
<g id="n69" class="n"><rect x="1177" y="3881" width="178" height="24"/><text x="1266" y="3898">ns3::LteCcmRrcSapUser</text></g>
<g id="n70" class="g"><rect x="1155" y="3933" width="221" height="54"/><text x="1265.5" y="3949">std::map&lt; uint16_t,</text><text x="1265.5" y="3965">ns3::LteEnbComponentCarrier</text><text x="1265.5" y="3982">Manager::UeInfo &gt;</text></g>
</svg>
